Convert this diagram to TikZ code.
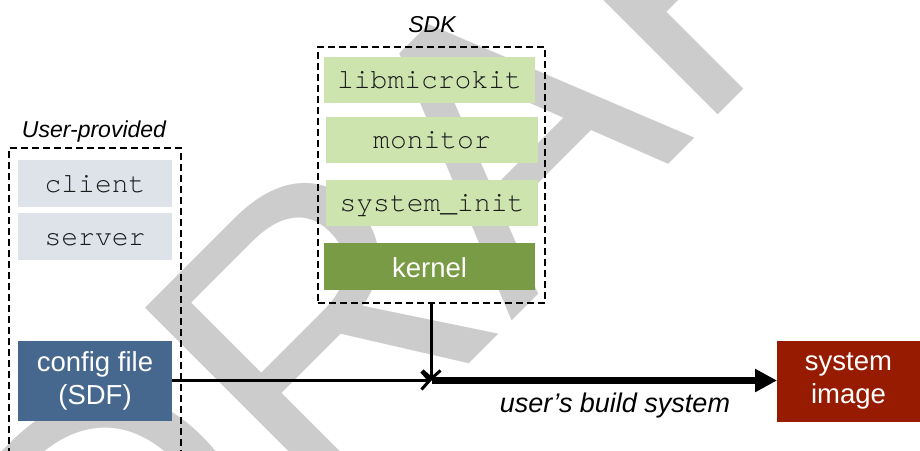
\documentclass[tikz,border=0pt]{standalone}
\usepackage{fontspec}
\usetikzlibrary{arrows.meta}
\newfontfamily\sansf{Liberation Sans}
\newfontfamily\monof{TeX Gyre Cursor}

\definecolor{wmgray}{RGB}{204,204,204}
\definecolor{usrfill}{RGB}{222,227,234}
\definecolor{sdkfill}{RGB}{205,228,175}
\definecolor{kernfill}{RGB}{122,155,69}
\definecolor{cfgfill}{RGB}{71,104,142}
\definecolor{imgfill}{RGB}{151,27,0}
\definecolor{inktext}{RGB}{26,26,26}

\tikzset{
  monobox/.style={inner sep=0pt, outer sep=0pt, text=inktext,
    font=\monof\fontsize{28}{30}\selectfont, text height=17pt, text depth=0pt},
  usrbox/.style={monobox, fill=usrfill, minimum width=154pt, minimum height=47pt},
  sdkbox/.style={monobox, fill=sdkfill, minimum width=212pt, minimum height=46pt},
  darkbox/.style={inner sep=0pt, outer sep=0pt, text=white, align=center,
    font=\sansf\fontsize{27.5}{33}\selectfont},
  groupline/.style={draw=black, line width=1.5pt, dash pattern=on 7pt off 4pt},
  grouplabel/.style={inner sep=0pt, anchor=base, font=\sansf\itshape\fontsize{23}{26}\selectfont},
  feed/.style={line width=3pt, -{Straight Barb[length=8pt,width=18pt]}},
  build/.style={line width=6.5pt, -{Triangle[length=22pt,width=22pt]}},
}

\begin{document}
\begin{tikzpicture}[x=1pt,y=-1pt]
\useasboundingbox (0,0) rectangle (920,450);
\fill[white] (0,0) rectangle (920,450);

% watermark lettering behind the diagram
\begin{scope}
  \clip (0,0) rectangle (920,450);
  \node[anchor=base west, rotate=45, inner sep=0pt, text=wmgray,
        font=\sansf\fontsize{390}{390}\selectfont] (wmark) at (113.5,719.5) {DRAFT};
\end{scope}

% user-provided group (open at the bottom)
\node[grouplabel] (usrlabel) at (94,137) {User-provided};
\draw[groupline] (9,455) |- (181,148) -- (181,455);
\node[usrbox] (client) at (95,183.5) {client};
\node[usrbox] (server) at (95,236.5) {server};
\node[darkbox, fill=cfgfill, minimum width=154pt, minimum height=80pt]
  (cfg) at (95,380.5) {config file\\(SDF)};

% SDK group
\node[grouplabel] (sdklabel) at (432,32) {SDK};
\node[groupline, minimum width=227pt, minimum height=256pt, inner sep=0pt] (sdk) at (431.5,175) {};
\node[sdkbox, minimum width=211pt] (libmk) at (429.5,80) {libmicrokit};
\node[sdkbox] (monitor) at (432,140) {monitor};
\node[sdkbox] (sysinit) at (432,203) {system\_init};
\node[darkbox, fill=kernfill, minimum width=211pt, minimum height=47pt,
      text height=21pt, text depth=0pt] (kernel) at (429.5,266.5) {kernel};

% output image
\node[darkbox, fill=imgfill, minimum width=143pt, minimum height=81pt]
  (img) at (848.5,381) {system\\image};

% build flow
\coordinate (join) at (431.5,380.5);
\draw[feed] (sdk.south) -- (join);
\draw[feed] (cfg.east) -- (join);
\draw[build] (join) -- (join -| img.west);
\node[inner sep=0pt, anchor=base, font=\sansf\itshape\fontsize{27}{30}\selectfont]
  (buildlabel) at (615,412) {user’s build system};
\end{tikzpicture}
\end{document}
